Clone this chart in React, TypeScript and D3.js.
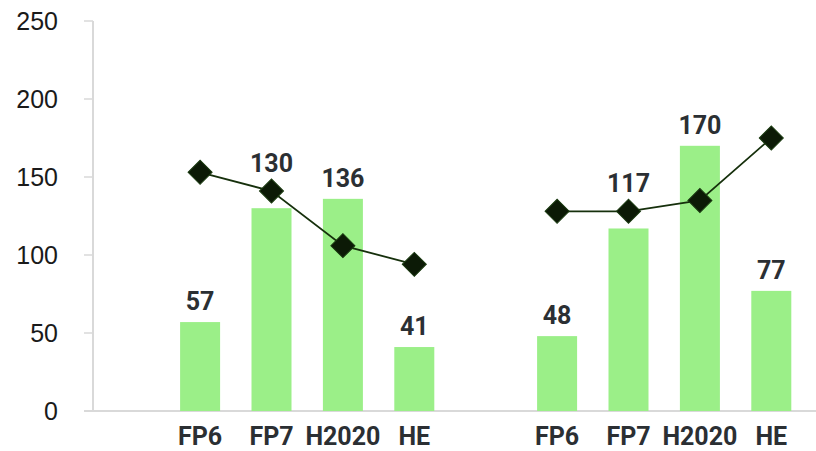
import React from "react";
import * as d3 from "d3";

const slots = ["g1-blank", "g1-FP6", "g1-FP7", "g1-H2020", "g1-HE", "g2-blank", "g2-FP6", "g2-FP7", "g2-H2020", "g2-HE"];
const categories = ["FP6", "FP7", "H2020", "HE"];
const group1Bars = [57, 130, 136, 41];
const group2Bars = [48, 117, 170, 77];
const group1Line = [153, 141, 106, 94];
const group2Line = [128, 128, 135, 175];
const yTicks = [0, 50, 100, 150, 200, 250];

const W = 816;
const H = 451;
const left = 93;
const right = 807;
const top = 21;
const bottom = 411;

export default function App() {
  const x = d3.scaleBand<string>().domain(slots).range([left, right]).paddingInner(0).paddingOuter(0);
  const y = d3.scaleLinear().domain([0, 250]).range([bottom, top]);
  const bw = 40;
  const groups = [
    { key: "g1", bars: group1Bars, line: group1Line },
    { key: "g2", bars: group2Bars, line: group2Line },
  ];
  const cx = (g: string, c: string) => (x(`${g}-${c}`) as number) + x.bandwidth() / 2;
  const diamond = d3.symbol().type(d3.symbolSquare).size(17 * 17);
  const labelY = (bar: number, ln: number) => {
    const base = y(bar) - 12;
    const dy = y(ln);
    // move label above the marker if it would collide
    if (dy < y(bar) && dy > base - 30) return dy - 19;
    return base;
  };
  const labelFont = { fontFamily: "Roboto, sans-serif", fontWeight: 700, fontSize: 25, fill: "#2b2f33" };

  return (
    <svg width={W} height={H} style={{ position: "absolute", left: 0, top: 0, background: "#fff" }}>
      <line x1={left} x2={left} y1={top} y2={bottom} stroke="#d9d9d9" strokeWidth={2} />
      <line x1={84} x2={W} y1={bottom} y2={bottom} stroke="#d9d9d9" strokeWidth={2} />
      {yTicks.map((t) => (
        <g key={t}>
          <line x1={84} x2={left} y1={y(t)} y2={y(t)} stroke="#d9d9d9" strokeWidth={1.5} />
          <text
            x={58}
            y={y(t) + 9}
            textAnchor="end"
            fontFamily="Liberation Sans, Arial, sans-serif"
            fontSize={25}
            fill="#1a1a1a"
          >
            {t}
          </text>
        </g>
      ))}
      {groups.map((g) => (
        <g key={g.key}>
          {g.bars.map((v, i) => (
            <rect
              key={i}
              x={cx(g.key, categories[i]) - bw / 2}
              y={y(v)}
              width={bw}
              height={y(0) - y(v)}
              fill="#9bef88"
            />
          ))}
          {categories.map((c) => (
            <text key={"x" + c} x={cx(g.key, c)} y={445} textAnchor="middle" {...labelFont}>
              {c}
            </text>
          ))}
          <path
            d={
              d3
                .line<number>()
                .x((_, i) => cx(g.key, categories[i]))
                .y((d) => y(d))(g.line) as string
            }
            fill="none"
            stroke="#16300c"
            strokeWidth={1.8}
          />
          {g.line.map((v, i) => (
            <path
              key={"d" + i}
              d={diamond() as string}
              transform={`translate(${cx(g.key, categories[i])},${y(v)}) rotate(45)`}
              fill="#0c1a06"
              stroke="#1a3a10"
              strokeWidth={1}
            />
          ))}
          {g.bars.map((v, i) => (
            <text key={"l" + i} x={cx(g.key, categories[i])} y={labelY(v, g.line[i])} textAnchor="middle" {...labelFont}>
              {v}
            </text>
          ))}
        </g>
      ))}
    </svg>
  );
}
